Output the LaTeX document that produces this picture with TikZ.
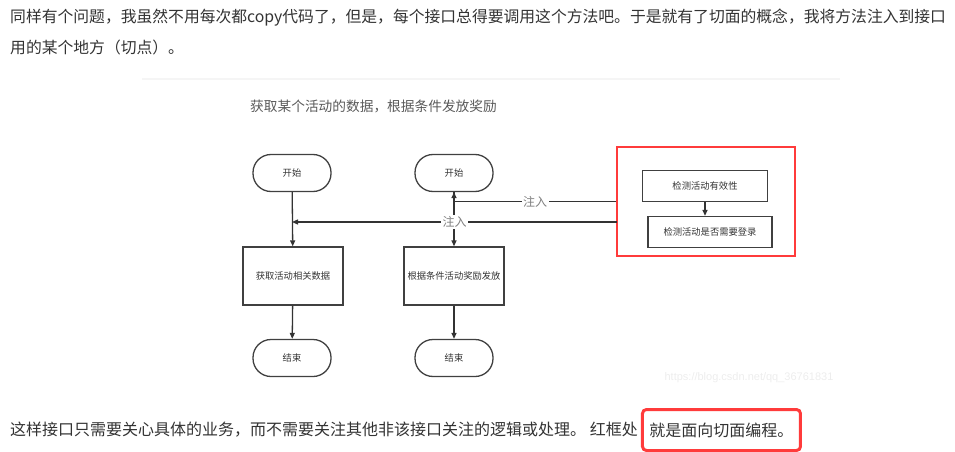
\documentclass[tikz,border=0pt]{standalone}
\usepackage{fontspec}
\setmainfont{Noto Sans CJK SC}
\newfontfamily\wmfont{Liberation Sans}
\usepackage{xcolor}
\usetikzlibrary{arrows.meta, positioning}
\definecolor{inkgray}{HTML}{333333}
\definecolor{boxred}{HTML}{FF3B3B}
\tikzset{
  para/.style={anchor=west, inner sep=0pt, text=inkgray,
               font=\fontsize{#1}{16}\selectfont},
  para/.default=15.8,
  ttl/.style={anchor=west, inner sep=0pt, text=black!65,
              font=\fontsize{13.7}{14}\selectfont},
  term/.style={draw=black!75, line width=1.3pt, rounded corners=18pt,
               minimum width=78pt, minimum height=37pt, text=inkgray,
               font=\fontsize{9.3}{10}\selectfont},
  proc/.style={draw=black!75, line width=1.3pt, minimum width=100pt,
               minimum height=58pt, text=inkgray,
               font=\fontsize{9.3}{10}\selectfont},
  chk/.style={draw=black!75, line width=1.3pt, minimum width=125pt,
              minimum height=31pt, text=inkgray,
              font=\fontsize{9.3}{10}\selectfont},
  aspect/.style={draw=boxred, line width=1.4pt, minimum width=178pt,
                 minimum height=109pt},
  arr/.style={-{Triangle[length=6pt, width=5pt]}, line width=1.3pt, black!80},
  lbl/.style={fill=white, text=black!50, inner sep=1.5pt,
              font=\fontsize{12}{12}\selectfont},
  wm/.style={text=black!7, font=\wmfont\fontsize{11}{11}\selectfont},
  hl/.style={para=16, draw=boxred, line width=3pt, rounded corners=4pt,
             inner xsep=7pt, minimum height=41pt},
}
\begin{document}
\begin{tikzpicture}[x=1pt, y=-1pt]
  \useasboundingbox (0,0) rectangle (955,452);
  %% text round the picture
  \node[para] (p1) at (10,18) {同样有个问题，我虽然不用每次都copy代码了，但是，每个接口总得要调用这个方法吧。于是就有了切面的概念，我将方法注入到接口};
  \node[para] (p2) at (10,47) {用的某个地方（切点）。};
  \draw[black!4, line width=1.5pt] (142,79) -- (840,79);
  \node[ttl] (title) at (250,106) {获取某个活动的数据，根据条件发放奖励};
  %% plain flow
  \node[term] (s1) at (292,173) {开始};
  \node[proc] (a1) at (293,276) {获取活动相关数据};
  \node[term] (e1) at (292,358) {结束};
  %% flow with aspect
  \node[term] (s2) at (454,173) {开始};
  \node[proc] (a2) at (454,276) {根据条件活动奖励发放};
  \node[term] (e2) at (454,358) {结束};
  %% aspect
  \node[aspect] (asp) at (706,201.5) {};
  \node[chk] (c1) at (705,186) {检测活动有效性};
  \node[chk, minimum width=124pt] (c2) at (710,232) {检测活动是否需要登录};
  \foreach \a/\b in {s1/a1,a1/e1,s2/a2,a2/e2}
    \draw[arr] (\a) -- (\b);
  \draw[arr] (c1.south) -- (c1.south |- c2.north);
  \draw[arr] (asp.west) -- node[lbl] {注入} (s2.south |- asp.west) -- (s2.south);
  \coordinate (j2) at (617,222);
  \draw[arr] (j2) -- node[lbl] {注入} (s1.south |- j2);
  \node[wm] (mark) at (749,378) {https://blog.csdn.net/qq\_36761831};
  %% text below
  \node[para=16] (p3) at (10,430) {这样接口只需要关心具体的业务，而不需要关注其他非该接口关注的逻辑或处理。 红框处};
  \node[hl, right=3pt of p3] (p4) {就是面向切面编程。};
\end{tikzpicture}
\end{document}
